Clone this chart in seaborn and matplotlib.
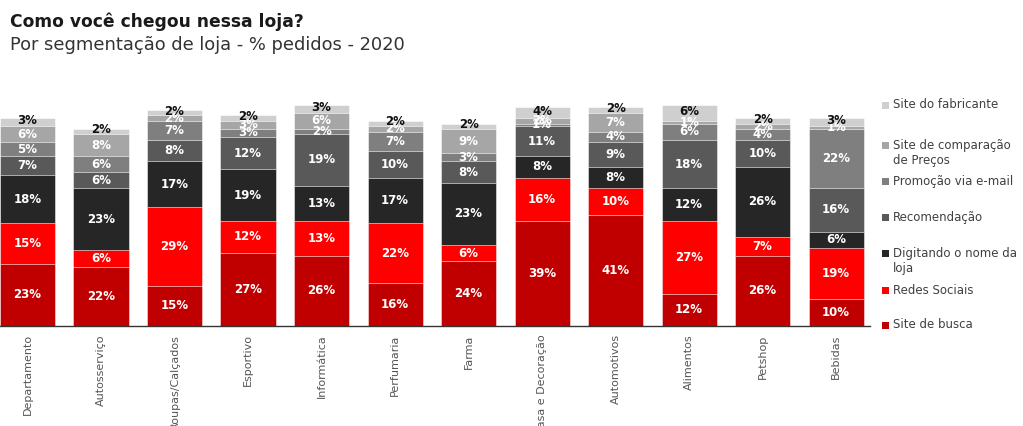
import numpy as np
import pandas as pd
import matplotlib
matplotlib.use("Agg")
import matplotlib.pyplot as plt
from matplotlib.patches import Rectangle
import seaborn as sns

categories = ["Departamento", "Autosserviço", "Roupas/Calçados", "Esportivo", "Informática",
              "Perfumaria", "Farma", "Casa e Decoração", "Automotivos", "Alimentos", "Petshop", "Bebidas"]
site_busca    = [23, 22, 15, 27, 26, 16, 24, 39, 41, 12, 26, 10]
redes_sociais = [15, 6, 29, 12, 13, 22, 6, 16, 10, 27, 7, 19]
digitando     = [18, 23, 17, 19, 13, 17, 23, 8, 8, 12, 26, 6]
recomendacao  = [7, 6, 8, 12, 19, 10, 8, 11, 9, 18, 10, 16]
promocao      = [5, 6, 7, 3, 2, 7, 3, 1, 4, 6, 4, 22]
comparacao    = [6, 8, 2, 3, 6, 2, 9, 2, 7, 1, 2, 1]
fabricante    = [3, 2, 2, 2, 3, 2, 2, 4, 2, 6, 2, 3]

series_names = ["Site de busca", "Redes Sociais", "Digitando o nome da\nloja", "Recomendação",
                "Promoção via e-mail", "Site de comparação\nde Preços", "Site do fabricante"]
series_values = [site_busca, redes_sociais, digitando, recomendacao, promocao, comparacao, fabricante]
colors = ["#C00000", "#FF0000", "#262626", "#595959", "#7F7F7F", "#A6A6A6", "#CFCFCF"]

sns.set_theme(style="white")
plt.rcParams['font.family'] = ['DejaVu Sans']

fig = plt.figure(figsize=(10.23, 4.26), dpi=100)
ax = fig.add_axes([0.0, 1 - 326/426, 870/1023, 270/426])

vals = np.array(series_values, dtype=float)
cum = np.cumsum(vals, axis=0)

# draw cumulative bars from top layer down (stacked via overlay)
for i in range(len(series_values) - 1, -1, -1):
    df = pd.DataFrame({"cat": categories, "val": cum[i]})
    sns.barplot(data=df, x="cat", y="val", order=categories, color=colors[i],
                saturation=1, width=0.75, edgecolor="white", linewidth=0.4, ax=ax)

# value labels
for i in range(len(series_values)):
    for j in range(len(categories)):
        v = vals[i, j]
        y = cum[i, j] - v / 2
        if i == len(series_values) - 1:
            y = cum[i, j] - v / 2 + 0.6
            col = "#111111"
        else:
            col = "white"
        ax.text(j, y, f"{int(v)}%", ha="center", va="center", color=col,
                fontsize=8.5, fontweight="bold")

ax.set_xlim(-0.374, 11.46)
ax.set_ylim(0, 100)
ax.set_xlabel("")
ax.set_ylabel("")
ax.set_yticks([])
ax.tick_params(axis="x", length=0, pad=6, labelsize=8, labelcolor="#555555")
plt.setp(ax.get_xticklabels(), rotation=90, va="top", ha="center")
for s in ["top", "right", "left"]:
    ax.spines[s].set_visible(False)
ax.spines["bottom"].set_color("#333333")
ax.spines["bottom"].set_linewidth(1.0)

# titles
fig.text(10/1023, 1 - 22/426, "Como você chegou nessa loja?", fontsize=12.3, fontweight="bold",
         color="#1a1a1a", ha="left", va="center")
fig.text(10/1023, 1 - 45/426, "Por segmentação de loja - % pedidos - 2020", fontsize=12.9,
         color="#333333", ha="left", va="center")

# legend (manual, top to bottom)
leg_y = [105, 145, 181, 217, 253, 290, 325]
for k, idx in enumerate(range(len(series_names) - 1, -1, -1)):
    yc = leg_y[k]
    fig.add_artist(Rectangle(((882)/1023, 1 - (yc + 3.5)/426), 7/1023, 7/426,
                             transform=fig.transFigure, facecolor=colors[idx], edgecolor="none"))
    fig.text(893/1023, 1 - (yc - 6.5)/426, series_names[idx], fontsize=8.5, color="#404040",
             ha="left", va="top", linespacing=1.25)

fig.savefig("out.png", dpi=100)
